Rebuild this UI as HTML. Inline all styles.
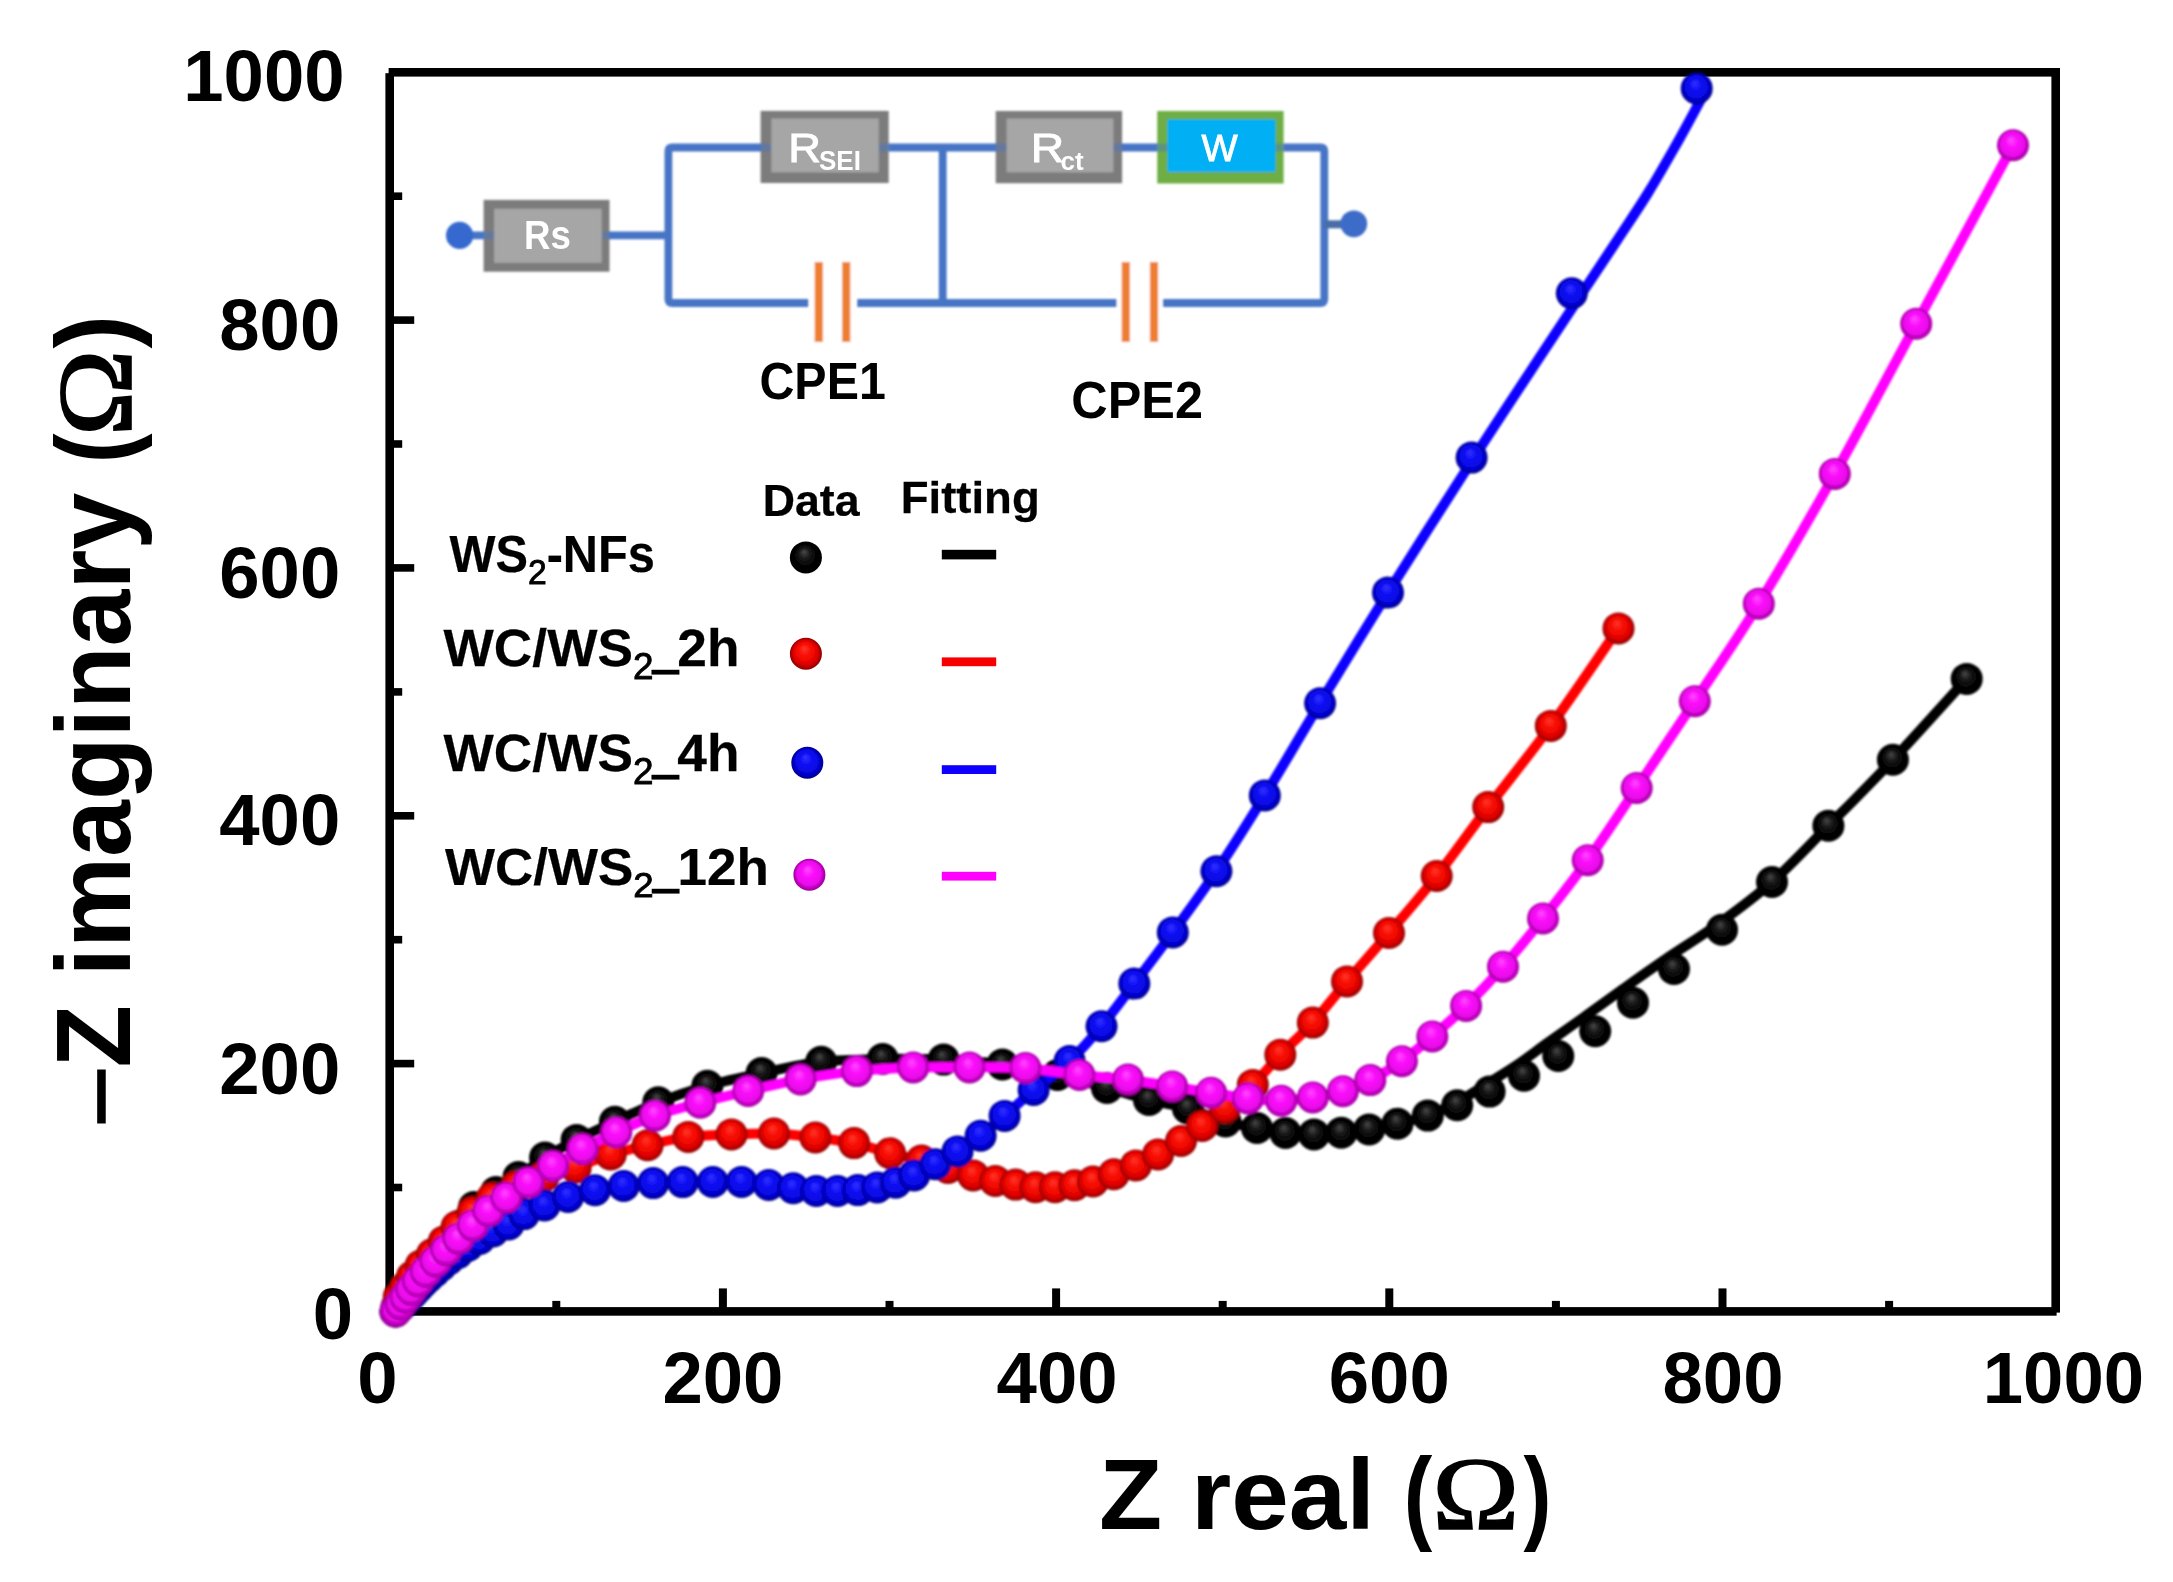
<!DOCTYPE html>
<html lang="en"><head><meta charset="utf-8"><title>Nyquist plot</title>
<style>html,body{margin:0;padding:0;background:#fff;overflow:hidden}svg{display:block}text{font-family:"Liberation Sans",sans-serif;font-weight:bold;fill:#000}.ser{font-family:"Liberation Serif",serif;font-weight:normal}.reg{font-weight:normal}</style></head><body>
<svg width="2173" height="1582" viewBox="0 0 2173 1582">
<defs>
<radialGradient id="gk" cx="0.5" cy="0.5" r="0.5" fx="0.44" fy="0.32"><stop offset="0" stop-color="#4a4a4a"/><stop offset="0.35" stop-color="#161616"/><stop offset="0.7" stop-color="#020202"/><stop offset="1" stop-color="#000000"/></radialGradient>
<radialGradient id="gr" cx="0.5" cy="0.5" r="0.5" fx="0.44" fy="0.32"><stop offset="0" stop-color="#ff3a26"/><stop offset="0.4" stop-color="#f80a06"/><stop offset="0.75" stop-color="#e00404"/><stop offset="1" stop-color="#8e0000"/></radialGradient>
<radialGradient id="gb" cx="0.5" cy="0.5" r="0.5" fx="0.44" fy="0.32"><stop offset="0" stop-color="#3434ff"/><stop offset="0.4" stop-color="#0c0cf4"/><stop offset="0.75" stop-color="#0606dc"/><stop offset="1" stop-color="#00008c"/></radialGradient>
<radialGradient id="gm" cx="0.5" cy="0.5" r="0.5" fx="0.44" fy="0.32"><stop offset="0" stop-color="#ff4cff"/><stop offset="0.4" stop-color="#fb0cfb"/><stop offset="0.75" stop-color="#e808e8"/><stop offset="1" stop-color="#9a009a"/></radialGradient>
<filter id="soft" x="-5%" y="-5%" width="110%" height="110%"><feGaussianBlur stdDeviation="0.7"/></filter>
<filter id="soft2" x="-5%" y="-5%" width="110%" height="110%"><feGaussianBlur stdDeviation="1.1"/></filter>
<filter id="soft3" x="-5%" y="-5%" width="110%" height="110%"><feGaussianBlur stdDeviation="1.0"/></filter>
</defs>
<rect width="2173" height="1582" fill="#fff"/>
<g id="axes" stroke="#000" fill="none" filter="url(#soft)">
<rect x="389.7" y="72.3" width="1666.0" height="1239.1" stroke-width="8.6"/>
<rect x="383" y="65" width="5.6" height="8.2" fill="#fff" stroke="none"/>
<rect x="2056.6" y="1312.6" width="6" height="5" fill="#fff" stroke="none"/>
<line x1="556.3" y1="1311.4" x2="556.3" y2="1300.9" stroke-width="8"/>
<line x1="722.9" y1="1311.4" x2="722.9" y2="1288.4" stroke-width="8"/>
<line x1="889.5" y1="1311.4" x2="889.5" y2="1300.9" stroke-width="8"/>
<line x1="1056.1" y1="1311.4" x2="1056.1" y2="1288.4" stroke-width="8"/>
<line x1="1222.7" y1="1311.4" x2="1222.7" y2="1300.9" stroke-width="8"/>
<line x1="1389.3" y1="1311.4" x2="1389.3" y2="1288.4" stroke-width="8"/>
<line x1="1555.9" y1="1311.4" x2="1555.9" y2="1300.9" stroke-width="8"/>
<line x1="1722.5" y1="1311.4" x2="1722.5" y2="1288.4" stroke-width="8"/>
<line x1="1889.1" y1="1311.4" x2="1889.1" y2="1300.9" stroke-width="8"/>
<line x1="389.7" y1="1187.5" x2="402.2" y2="1187.5" stroke-width="7.6"/>
<line x1="389.7" y1="1063.6" x2="414.2" y2="1063.6" stroke-width="7.6"/>
<line x1="389.7" y1="939.7" x2="402.2" y2="939.7" stroke-width="7.6"/>
<line x1="389.7" y1="815.8" x2="414.2" y2="815.8" stroke-width="7.6"/>
<line x1="389.7" y1="691.9" x2="402.2" y2="691.9" stroke-width="7.6"/>
<line x1="389.7" y1="567.9" x2="414.2" y2="567.9" stroke-width="7.6"/>
<line x1="389.7" y1="444.0" x2="402.2" y2="444.0" stroke-width="7.6"/>
<line x1="389.7" y1="320.1" x2="414.2" y2="320.1" stroke-width="7.6"/>
<line x1="389.7" y1="196.2" x2="402.2" y2="196.2" stroke-width="7.6"/>
</g>
<g id="ticklabels" filter="url(#soft)">
<text x="312.8" y="1338.8" font-size="72.5">0</text>
<text x="219.3" y="1093.6" font-size="72.5">200</text>
<text x="219.3" y="845.2" font-size="72.5">400</text>
<text x="219.3" y="598.0" font-size="72.5">600</text>
<text x="219.3" y="350.2" font-size="72.5">800</text>
<text x="183.3" y="100.6" font-size="72.5">1000</text>
<text x="357.3" y="1403.3" font-size="72.5">0</text>
<text x="662.4" y="1403.3" font-size="72.5">200</text>
<text x="996.6" y="1403.3" font-size="72.5">400</text>
<text x="1328.8" y="1403.3" font-size="72.5">600</text>
<text x="1662.5" y="1403.3" font-size="72.5">800</text>
<text x="1982.8" y="1403.3" font-size="72.5">1000</text>
</g>
<g id="titles" filter="url(#soft)">
<text transform="translate(1099.11 1529.30) scale(1.0291 1.0000)" font-size="100.5">Z real</text>
<text transform="translate(1403.74 1529.80) scale(0.8310 1.0000)" font-size="103">(</text>
<text transform="translate(1432.13 1529.30) scale(1.1147 0.9817)" class="ser" font-size="105" stroke="#000" stroke-width="1.6">Ω</text>
<text transform="translate(1523.50 1529.80) scale(0.8138 1.0000)" font-size="103">)</text>
<text transform="translate(136.40 1127.02) rotate(-90) scale(1.0404 1.0000)" class="ser" font-size="104" stroke="#000" stroke-width="3.4">−</text>
<text transform="translate(129.90 1067.49) rotate(-90) scale(0.9310 0.9532)" font-size="110">Z imaginary</text>
<text transform="translate(129.90 463.32) rotate(-90) scale(0.8433 1.0000)" font-size="106">(</text>
<text transform="translate(130.80 436.17) rotate(-90) scale(1.1147 1.0042)" class="ser" font-size="105" stroke="#000" stroke-width="1.6">Ω</text>
<text transform="translate(129.90 348.50) rotate(-90) scale(0.9500 1.0000)" font-size="106">)</text>
</g>
<g id="circuit" filter="url(#soft2)">
<rect x="483.6" y="199.9" width="125.9" height="71.8" fill="#7c7c7c"/>
<rect x="760.6" y="110.9" width="128.1" height="72.1" fill="#7c7c7c"/>
<rect x="995.7" y="111.0" width="126.4" height="72.2" fill="#7c7c7c"/>
<rect x="1157.2" y="111.0" width="126.4" height="72.5" fill="#6eae44"/>
<g stroke="#4674c6" stroke-width="7.8" fill="none" stroke-linejoin="round">
<path d="M460 235.3H484M609 235.3H668"/>
<path d="M761 147.5H672.4Q668.4 147.5 668.4 151.5V299Q668.4 303 672.4 303H808.3"/>
<path d="M857.2 303H1116.6"/>
<path d="M888.5 147.5H996"/>
<path d="M942.7 147.5V303"/>
<path d="M1122 147.5H1157.5"/>
<path d="M1283.4 147.5H1320.3Q1324.3 147.5 1324.3 151.5V299Q1324.3 303 1320.3 303H1162.7"/>
</g>
<g stroke="#4674c6" stroke-width="7.8" fill="none" opacity="0.45">
<path d="M484 235.3H496M600 235.3H609M761 147.5H773M877 147.5H888.5M996 147.5H1008M1112 147.5H1122M1157.5 147.5H1169M1274 147.5H1283.4"/>
</g>
<path d="M1324.3 224.3H1350" stroke="#4a6da6" stroke-width="8" fill="none"/>
<circle cx="459.6" cy="235.4" r="13.6" fill="#3569cf"/>
<circle cx="1353.8" cy="223.8" r="13.4" fill="#3c6cc8"/>
<rect x="494.1" y="208.7" width="107.7" height="54.2" fill="#a6a6a6"/>
<rect x="771.3" y="118.5" width="107.5" height="53.9" fill="#a6a6a6"/>
<rect x="1006.6" y="118.5" width="106.8" height="53.9" fill="#a6a6a6"/>
<rect x="1167.3" y="119.3" width="108.3" height="52.8" fill="#02aff4"/>
<rect x="810.3" y="257" width="17" height="90" fill="#fff"/>
<rect x="837.7" y="257" width="17" height="90" fill="#fff"/>
<rect x="1117.3" y="257" width="17" height="90" fill="#fff"/>
<rect x="1145.5" y="257" width="17" height="90" fill="#fff"/>
<rect x="814.7" y="262" width="8.2" height="80" fill="#ee7f31"/>
<rect x="842.1" y="262" width="8.2" height="80" fill="#ee7f31"/>
<rect x="1121.7" y="262" width="8.2" height="80" fill="#ee7f31"/>
<rect x="1149.9" y="262" width="8.2" height="80" fill="#ee7f31"/>
</g>
<g id="circuit-labels" filter="url(#soft)">
<text transform="translate(523.95 249.00) scale(0.9170 1.0000)" font-size="40" style="fill:#fff">Rs</text>
<text transform="translate(788.27 161.80) scale(1.1333 1.0000)" class="reg" font-size="40" stroke="#fff" stroke-width="0.9" style="fill:#fff">R</text>
<text transform="translate(818.93 170.20) scale(0.9675 1.0000)" font-size="26.9" style="fill:#fff">SEI</text>
<text transform="translate(1030.77 161.80) scale(1.1571 1.0000)" class="reg" font-size="40" stroke="#fff" stroke-width="0.9" style="fill:#fff">R</text>
<text transform="translate(1060.48 170.20) scale(1.0238 1.0000)" font-size="25.5" style="fill:#fff">ct</text>
<text transform="translate(1201.49 161.40) scale(1.0147 1.0000)" class="reg" font-size="37.8" stroke="#fff" stroke-width="0.9" style="fill:#fff">W</text>
<text transform="translate(759.42 399.40) scale(0.9397 1.0000)" font-size="51.5">CPE1</text>
<text transform="translate(1071.36 418.10) scale(0.9689 1.0000)" font-size="52">CPE2</text>
</g>
<g id="legend" filter="url(#soft)" stroke="#000" stroke-width="0.25">
<text transform="translate(762.64 515.90) scale(1.0207 1.0000)" font-size="43.8">Data</text>
<text transform="translate(900.68 512.60) scale(1.0398 1.0000)" font-size="43.8">Fitting</text>
<text transform="translate(449.50 571.60) scale(0.9364 1.0000)" font-size="52">WS<tspan class="reg" font-size="36" dy="12.5" stroke-width="0.9">2</tspan><tspan dy="-12.5">-NFs</tspan></text>
<text transform="translate(443.60 666.40) scale(1.0245 1.0000)" font-size="52">WC/WS<tspan class="reg" font-size="36" dy="12.5" stroke-width="0.9">2</tspan><tspan dy="-10.5" font-size="42" stroke-width="3.2">_</tspan><tspan dy="-2">2h</tspan></text>
<text transform="translate(443.60 771.00) scale(1.0245 1.0000)" font-size="52">WC/WS<tspan class="reg" font-size="36" dy="12.5" stroke-width="0.9">2</tspan><tspan dy="-10.5" font-size="42" stroke-width="3.2">_</tspan><tspan dy="-2">4h</tspan></text>
<text transform="translate(445.00 884.60) scale(1.0190 1.0000)" font-size="52">WC/WS<tspan class="reg" font-size="36" dy="12.5" stroke-width="0.9">2</tspan><tspan dy="-10.5" font-size="42" stroke-width="3.2">_</tspan><tspan dy="-2">12h</tspan></text>
</g>
<g id="legend-marks" filter="url(#soft)">
<circle cx="805.9" cy="557.4" r="16" fill="url(#gk)"/>
<circle cx="805.9" cy="653.8" r="16" fill="url(#gr)"/>
<circle cx="807.3" cy="762.7" r="16" fill="url(#gb)"/>
<circle cx="809.4" cy="874.7" r="16" fill="url(#gm)"/>
<rect x="941.8" y="549.8" width="54.4" height="9.6" fill="#000"/>
<rect x="941.8" y="657.4" width="54.4" height="8.8" fill="#f80000"/>
<rect x="941.8" y="765.2" width="54.4" height="8.8" fill="#0a00ff"/>
<rect x="941.8" y="871.8" width="54.4" height="8.8" fill="#ff00ff"/>
</g>
<g id="data" filter="url(#soft3)">
<g id="s-k">
<path d="M395.5 1311.5C395.9 1310.3 397.1 1307.0 398.0 1304.4C399.0 1301.8 399.5 1298.7 401.1 1295.9C402.7 1293.1 405.3 1290.7 407.6 1287.8C410.0 1284.9 412.4 1281.8 415.1 1278.5C417.8 1275.2 420.7 1271.6 423.8 1267.8C427.0 1264.0 430.4 1260.1 434.0 1255.7C437.7 1251.4 441.6 1246.9 445.7 1241.9C449.9 1236.9 454.2 1231.5 458.9 1225.7C463.6 1219.9 467.8 1212.6 474.0 1207.0C480.2 1201.4 488.6 1197.0 496.0 1192.0C503.4 1187.0 510.3 1182.8 518.5 1177.0C526.7 1171.2 535.3 1163.7 545.0 1157.5C554.7 1151.3 565.0 1145.9 576.6 1139.9C588.2 1133.9 601.3 1128.0 614.9 1121.7C628.5 1115.4 642.9 1108.3 658.3 1102.3C673.7 1096.3 690.2 1090.7 707.4 1085.8C724.6 1080.9 742.6 1077.1 761.6 1073.1C780.6 1069.1 801.0 1064.1 821.2 1061.8C841.4 1059.5 862.3 1059.4 882.7 1059.0C903.1 1058.6 923.7 1058.7 943.6 1059.6C963.5 1060.5 983.4 1061.9 1002.4 1064.5C1021.4 1067.1 1040.1 1071.1 1057.5 1075.0C1074.9 1078.9 1091.8 1083.8 1107.0 1088.0C1122.2 1092.2 1135.5 1096.6 1149.0 1100.0C1162.5 1103.4 1175.2 1104.9 1188.0 1108.5C1200.8 1112.1 1214.0 1118.2 1225.5 1121.5C1237.0 1124.8 1247.0 1126.1 1257.0 1128.0C1267.0 1129.9 1276.0 1131.9 1285.5 1133.0C1295.0 1134.1 1304.7 1134.5 1314.0 1134.5C1323.3 1134.5 1332.1 1133.6 1341.3 1132.8C1350.5 1132.0 1359.7 1131.0 1369.1 1129.5C1378.5 1128.0 1387.7 1126.1 1397.5 1123.8C1407.3 1121.5 1418.1 1119.1 1427.8 1115.6C1437.5 1112.1 1446.1 1108.1 1455.6 1103.0C1465.1 1097.9 1474.7 1091.5 1484.8 1085.2C1494.9 1078.9 1505.7 1072.5 1516.2 1065.4C1526.8 1058.3 1536.7 1050.5 1548.1 1042.4C1559.5 1034.3 1572.0 1025.7 1584.4 1016.8C1596.9 1007.9 1609.2 998.8 1622.8 989.1C1636.4 979.4 1650.4 969.4 1666.2 958.6C1682.0 947.8 1700.2 937.0 1717.8 924.2C1735.4 911.4 1753.6 898.4 1772.0 882.0C1790.4 865.6 1808.2 846.2 1828.4 825.8C1848.6 805.4 1869.9 784.3 1892.9 759.8C1916.0 735.3 1954.4 692.4 1966.7 678.9" fill="none" stroke="#000000" stroke-width="10.0" stroke-linejoin="round" stroke-linecap="round"/>
<g fill="url(#gk)">
<circle cx="395.5" cy="1311.5" r="16.0"/>
<circle cx="398.0" cy="1304.4" r="16.0"/>
<circle cx="401.1" cy="1295.9" r="16.0"/>
<circle cx="407.6" cy="1287.8" r="16.0"/>
<circle cx="415.1" cy="1278.5" r="16.0"/>
<circle cx="423.8" cy="1267.8" r="16.0"/>
<circle cx="434.0" cy="1255.7" r="16.0"/>
<circle cx="445.7" cy="1241.9" r="16.0"/>
<circle cx="458.9" cy="1225.7" r="16.0"/>
<circle cx="474.0" cy="1207.0" r="16.0"/>
<circle cx="496.0" cy="1192.0" r="16.0"/>
<circle cx="518.5" cy="1177.0" r="16.0"/>
<circle cx="545.0" cy="1157.5" r="16.0"/>
<circle cx="576.6" cy="1139.9" r="16.0"/>
<circle cx="614.9" cy="1121.7" r="16.0"/>
<circle cx="658.3" cy="1102.3" r="16.0"/>
<circle cx="707.4" cy="1085.8" r="16.0"/>
<circle cx="761.6" cy="1073.1" r="16.0"/>
<circle cx="821.2" cy="1061.8" r="16.0"/>
<circle cx="882.7" cy="1059.0" r="16.0"/>
<circle cx="943.6" cy="1059.6" r="16.0"/>
<circle cx="1002.4" cy="1064.5" r="16.0"/>
<circle cx="1057.5" cy="1075.0" r="16.0"/>
<circle cx="1107.0" cy="1088.0" r="16.0"/>
<circle cx="1149.0" cy="1100.0" r="16.0"/>
<circle cx="1188.0" cy="1108.5" r="16.0"/>
<circle cx="1225.5" cy="1121.5" r="16.0"/>
<circle cx="1257.0" cy="1128.0" r="16.0"/>
<circle cx="1285.5" cy="1133.0" r="16.0"/>
<circle cx="1314.0" cy="1134.5" r="16.0"/>
<circle cx="1341.3" cy="1132.8" r="16.0"/>
<circle cx="1369.1" cy="1129.5" r="16.0"/>
<circle cx="1397.5" cy="1123.8" r="16.0"/>
<circle cx="1427.8" cy="1115.6" r="16.0"/>
<circle cx="1457.2" cy="1105.2" r="16.0"/>
<circle cx="1489.6" cy="1091.6" r="16.0"/>
<circle cx="1524.0" cy="1075.8" r="16.0"/>
<circle cx="1558.3" cy="1056.0" r="16.0"/>
<circle cx="1595.2" cy="1031.2" r="16.0"/>
<circle cx="1633.0" cy="1002.7" r="16.0"/>
<circle cx="1674.0" cy="969.0" r="16.0"/>
<circle cx="1722.0" cy="929.8" r="16.0"/>
<circle cx="1772.0" cy="882.0" r="16.0"/>
<circle cx="1828.4" cy="825.8" r="16.0"/>
<circle cx="1892.9" cy="759.8" r="16.0"/>
<circle cx="1966.7" cy="678.9" r="16.0"/>
</g></g>
<g id="s-r">
<path d="M395.5 1311.5C395.7 1310.7 396.0 1309.4 396.5 1306.9C397.1 1304.5 397.4 1300.1 398.8 1296.8C400.2 1293.6 402.7 1290.5 404.9 1287.2C407.1 1283.8 409.4 1280.2 412.0 1276.5C414.7 1272.9 417.4 1269.1 420.7 1265.4C424.0 1261.7 428.1 1258.3 431.9 1254.3C435.8 1250.3 439.7 1246.0 443.8 1241.4C447.9 1236.8 451.8 1231.5 456.6 1226.7C461.4 1221.8 466.7 1216.9 472.6 1212.1C478.5 1207.3 484.8 1202.3 492.0 1198.0C499.3 1193.7 507.5 1190.2 516.1 1186.5C524.8 1182.9 534.0 1179.4 543.9 1176.2C553.8 1173.0 564.6 1171.0 575.7 1167.4C586.8 1163.8 598.7 1158.1 610.7 1154.4C622.7 1150.7 634.7 1148.1 647.6 1145.2C660.5 1142.3 674.3 1138.7 688.3 1136.9C702.3 1135.1 717.2 1135.0 731.5 1134.4C745.8 1133.8 760.0 1133.0 774.0 1133.5C788.0 1134.0 802.0 1135.9 815.4 1137.5C828.8 1139.1 841.6 1140.5 854.1 1143.1C866.6 1145.7 878.9 1150.3 890.1 1153.2C901.3 1156.1 911.9 1158.1 921.5 1160.6C931.1 1163.1 939.4 1165.5 948.0 1168.0C956.6 1170.5 965.3 1173.2 973.2 1175.4C981.1 1177.6 988.2 1179.4 995.3 1180.9C1002.4 1182.4 1008.9 1183.5 1015.6 1184.6C1022.3 1185.7 1028.9 1186.8 1035.5 1187.3C1042.1 1187.8 1048.5 1187.6 1055.0 1187.3C1061.5 1187.0 1068.2 1186.3 1074.5 1185.3C1080.8 1184.3 1086.5 1183.3 1093.0 1181.5C1099.5 1179.7 1106.6 1177.0 1113.8 1174.3C1121.0 1171.6 1128.5 1168.7 1135.9 1165.4C1143.3 1162.1 1150.5 1158.6 1158.0 1154.5C1165.5 1150.4 1173.6 1145.8 1181.0 1141.0C1188.4 1136.2 1194.9 1131.4 1202.2 1125.9C1209.5 1120.4 1216.6 1114.8 1225.0 1108.0C1233.4 1101.2 1243.6 1093.8 1252.8 1084.9C1262.0 1076.0 1270.3 1065.2 1280.3 1054.8C1290.3 1044.4 1301.7 1034.8 1312.8 1022.6C1323.9 1010.4 1334.3 996.3 1347.0 981.4C1359.7 966.5 1374.0 950.6 1389.0 933.0C1404.0 915.4 1420.2 897.0 1436.7 876.0C1453.2 855.0 1469.2 832.1 1488.2 807.1C1507.2 782.1 1529.1 755.7 1550.8 725.9C1572.5 696.1 1607.2 644.6 1618.5 628.4" fill="none" stroke="#ff0000" stroke-width="10.0" stroke-linejoin="round" stroke-linecap="round"/>
<g fill="url(#gr)">
<circle cx="395.5" cy="1311.5" r="16.0"/>
<circle cx="396.5" cy="1306.9" r="16.0"/>
<circle cx="398.8" cy="1296.8" r="16.0"/>
<circle cx="404.9" cy="1287.2" r="16.0"/>
<circle cx="412.0" cy="1276.5" r="16.0"/>
<circle cx="420.7" cy="1265.4" r="16.0"/>
<circle cx="431.9" cy="1254.3" r="16.0"/>
<circle cx="443.8" cy="1241.4" r="16.0"/>
<circle cx="456.6" cy="1226.7" r="16.0"/>
<circle cx="472.6" cy="1212.1" r="16.0"/>
<circle cx="492.0" cy="1198.0" r="16.0"/>
<circle cx="516.1" cy="1186.5" r="16.0"/>
<circle cx="543.9" cy="1176.2" r="16.0"/>
<circle cx="575.7" cy="1167.4" r="16.0"/>
<circle cx="610.7" cy="1154.4" r="16.0"/>
<circle cx="647.6" cy="1145.2" r="16.0"/>
<circle cx="688.3" cy="1136.9" r="16.0"/>
<circle cx="731.5" cy="1134.4" r="16.0"/>
<circle cx="774.0" cy="1133.5" r="16.0"/>
<circle cx="815.4" cy="1137.5" r="16.0"/>
<circle cx="854.1" cy="1143.1" r="16.0"/>
<circle cx="890.1" cy="1153.2" r="16.0"/>
<circle cx="921.5" cy="1160.6" r="16.0"/>
<circle cx="948.0" cy="1168.0" r="16.0"/>
<circle cx="973.2" cy="1175.4" r="16.0"/>
<circle cx="995.3" cy="1180.9" r="16.0"/>
<circle cx="1015.6" cy="1184.6" r="16.0"/>
<circle cx="1035.5" cy="1187.3" r="16.0"/>
<circle cx="1055.0" cy="1187.3" r="16.0"/>
<circle cx="1074.5" cy="1185.3" r="16.0"/>
<circle cx="1093.0" cy="1181.5" r="16.0"/>
<circle cx="1113.8" cy="1174.3" r="16.0"/>
<circle cx="1135.9" cy="1165.4" r="16.0"/>
<circle cx="1158.0" cy="1154.5" r="16.0"/>
<circle cx="1181.0" cy="1141.0" r="16.0"/>
<circle cx="1202.2" cy="1125.9" r="16.0"/>
<circle cx="1225.0" cy="1108.0" r="16.0"/>
<circle cx="1252.8" cy="1084.9" r="16.0"/>
<circle cx="1280.3" cy="1054.8" r="16.0"/>
<circle cx="1312.8" cy="1022.6" r="16.0"/>
<circle cx="1347.0" cy="981.4" r="16.0"/>
<circle cx="1389.0" cy="933.0" r="16.0"/>
<circle cx="1436.7" cy="876.0" r="16.0"/>
<circle cx="1488.2" cy="807.1" r="16.0"/>
<circle cx="1550.8" cy="725.9" r="16.0"/>
<circle cx="1618.5" cy="628.4" r="16.0"/>
</g></g>
<g id="s-b">
<path d="M395.5 1311.5C395.8 1311.2 396.5 1310.4 397.1 1309.8C397.7 1309.1 398.5 1308.3 399.2 1307.4C400.0 1306.6 400.8 1305.8 401.6 1304.9C402.4 1304.0 403.3 1303.0 404.2 1302.0C405.1 1301.0 406.1 1299.9 407.1 1298.8C408.2 1297.7 409.3 1296.6 410.5 1295.4C411.6 1294.1 412.9 1292.9 414.2 1291.5C415.5 1290.2 416.8 1288.7 418.3 1287.2C419.7 1285.7 421.2 1284.1 422.8 1282.5C424.5 1280.8 426.2 1279.2 428.1 1277.4C430.0 1275.7 432.0 1273.9 434.2 1272.0C436.3 1270.1 438.5 1268.0 440.9 1266.0C443.3 1263.9 445.8 1261.7 448.6 1259.5C451.4 1257.4 454.5 1255.3 457.7 1253.1C460.9 1250.8 464.1 1248.3 467.8 1245.9C471.5 1243.6 475.4 1241.3 479.6 1238.9C483.8 1236.5 488.2 1233.9 493.0 1231.5C497.8 1229.1 503.3 1227.4 508.5 1224.5C513.7 1221.6 518.1 1217.3 524.1 1214.1C530.1 1210.9 537.2 1208.3 544.5 1205.5C551.8 1202.7 559.6 1199.5 568.0 1197.0C576.4 1194.5 585.7 1192.0 595.0 1190.2C604.3 1188.4 614.0 1187.2 623.7 1186.0C633.4 1184.8 643.4 1183.8 653.2 1183.1C663.0 1182.4 672.8 1182.3 682.7 1182.1C692.6 1181.9 703.0 1182.0 712.8 1182.0C722.6 1182.0 732.3 1181.5 741.6 1182.0C750.9 1182.5 760.2 1184.0 768.8 1185.0C777.4 1186.0 785.3 1187.3 793.2 1188.3C801.1 1189.3 808.9 1190.5 816.3 1191.0C823.7 1191.5 830.6 1191.2 837.5 1191.0C844.4 1190.8 851.2 1190.7 857.8 1190.1C864.4 1189.5 870.9 1188.6 877.2 1187.4C883.5 1186.2 889.6 1184.7 895.7 1182.7C901.9 1180.7 907.5 1178.5 914.1 1175.4C920.7 1172.3 928.1 1168.3 935.3 1164.3C942.5 1160.3 950.0 1156.2 957.5 1151.4C965.0 1146.6 972.8 1141.6 980.6 1135.7C988.5 1129.8 995.8 1123.5 1004.6 1115.9C1013.4 1108.3 1022.8 1099.2 1033.6 1090.0C1044.4 1080.8 1058.3 1071.6 1069.6 1061.0C1080.9 1050.4 1090.7 1039.1 1101.5 1026.2C1112.3 1013.3 1122.4 999.2 1134.3 983.6C1146.2 968.0 1159.1 951.1 1172.8 932.4C1186.5 913.7 1201.1 894.1 1216.4 871.3C1231.7 848.5 1247.5 823.4 1264.8 795.4C1282.1 767.4 1299.6 737.0 1320.1 703.2C1340.6 669.4 1362.3 633.5 1388.0 592.6C1413.7 551.7 1450.3 494.4 1474.0 457.6C1497.7 420.8 1512.0 399.4 1530.0 372.0C1548.0 344.6 1567.3 315.5 1582.0 293.3C1596.7 271.1 1607.0 255.7 1618.0 239.0C1629.0 222.3 1638.3 208.7 1648.0 193.0C1657.7 177.3 1667.3 160.3 1676.0 145.0C1684.7 129.7 1695.0 110.2 1700.0 101.0C1705.0 91.8 1705.0 91.8 1706.0 90.0" fill="none" stroke="#0a00ff" stroke-width="10.0" stroke-linejoin="round" stroke-linecap="round"/>
<g fill="url(#gb)">
<circle cx="395.5" cy="1311.5" r="16.0"/>
<circle cx="397.1" cy="1309.8" r="16.0"/>
<circle cx="399.2" cy="1307.4" r="16.0"/>
<circle cx="401.6" cy="1304.9" r="16.0"/>
<circle cx="404.2" cy="1302.0" r="16.0"/>
<circle cx="407.1" cy="1298.8" r="16.0"/>
<circle cx="410.5" cy="1295.4" r="16.0"/>
<circle cx="414.2" cy="1291.5" r="16.0"/>
<circle cx="418.3" cy="1287.2" r="16.0"/>
<circle cx="422.8" cy="1282.5" r="16.0"/>
<circle cx="428.1" cy="1277.4" r="16.0"/>
<circle cx="434.2" cy="1272.0" r="16.0"/>
<circle cx="440.9" cy="1266.0" r="16.0"/>
<circle cx="448.6" cy="1259.5" r="16.0"/>
<circle cx="457.7" cy="1253.1" r="16.0"/>
<circle cx="467.8" cy="1245.9" r="16.0"/>
<circle cx="479.6" cy="1238.9" r="16.0"/>
<circle cx="493.0" cy="1231.5" r="16.0"/>
<circle cx="508.5" cy="1224.5" r="16.0"/>
<circle cx="524.1" cy="1214.1" r="16.0"/>
<circle cx="544.5" cy="1205.5" r="16.0"/>
<circle cx="568.0" cy="1197.0" r="16.0"/>
<circle cx="595.0" cy="1190.2" r="16.0"/>
<circle cx="623.7" cy="1186.0" r="16.0"/>
<circle cx="653.2" cy="1183.1" r="16.0"/>
<circle cx="682.7" cy="1182.1" r="16.0"/>
<circle cx="712.8" cy="1182.0" r="16.0"/>
<circle cx="741.6" cy="1182.0" r="16.0"/>
<circle cx="768.8" cy="1185.0" r="16.0"/>
<circle cx="793.2" cy="1188.3" r="16.0"/>
<circle cx="816.3" cy="1191.0" r="16.0"/>
<circle cx="837.5" cy="1191.0" r="16.0"/>
<circle cx="857.8" cy="1190.1" r="16.0"/>
<circle cx="877.2" cy="1187.4" r="16.0"/>
<circle cx="895.7" cy="1182.7" r="16.0"/>
<circle cx="914.1" cy="1175.4" r="16.0"/>
<circle cx="935.3" cy="1164.3" r="16.0"/>
<circle cx="957.5" cy="1151.4" r="16.0"/>
<circle cx="980.6" cy="1135.7" r="16.0"/>
<circle cx="1004.6" cy="1115.9" r="16.0"/>
<circle cx="1033.6" cy="1090.0" r="16.0"/>
<circle cx="1069.6" cy="1061.0" r="16.0"/>
<circle cx="1101.5" cy="1026.2" r="16.0"/>
<circle cx="1134.3" cy="983.6" r="16.0"/>
<circle cx="1172.8" cy="932.4" r="16.0"/>
<circle cx="1216.4" cy="871.3" r="16.0"/>
<circle cx="1264.8" cy="795.4" r="16.0"/>
<circle cx="1320.1" cy="703.2" r="16.0"/>
<circle cx="1388.0" cy="592.6" r="16.0"/>
<circle cx="1471.6" cy="457.6" r="16.0"/>
<circle cx="1571.8" cy="293.3" r="16.0"/>
<circle cx="1696.7" cy="88.4" r="16.0"/>
</g></g>
<g id="s-m">
<path d="M395.5 1311.5C395.7 1311.3 395.6 1311.4 396.5 1310.2C397.3 1309.0 399.2 1306.3 400.8 1304.2C402.3 1302.0 403.9 1299.8 405.7 1297.4C407.4 1294.9 409.2 1292.3 411.3 1289.6C413.3 1286.9 415.6 1284.1 418.0 1281.2C420.5 1278.2 423.0 1275.0 425.9 1271.7C428.8 1268.4 432.1 1265.1 435.5 1261.5C438.9 1257.9 442.5 1253.9 446.3 1250.1C450.1 1246.3 454.0 1242.8 458.4 1238.7C462.8 1234.6 467.8 1230.1 472.8 1225.5C477.8 1220.9 482.8 1215.6 488.4 1211.0C494.0 1206.4 499.7 1202.5 506.4 1197.8C513.1 1193.0 520.7 1187.8 528.5 1182.5C536.3 1177.2 544.0 1171.6 553.0 1166.0C562.0 1160.4 572.0 1154.6 582.5 1149.0C593.0 1143.4 604.2 1137.8 616.3 1132.3C628.4 1126.8 641.0 1120.6 655.0 1115.7C669.0 1110.8 684.8 1106.9 700.3 1102.8C715.8 1098.7 731.5 1094.9 748.2 1091.0C764.9 1087.1 782.5 1082.7 800.6 1079.4C818.7 1076.1 838.1 1073.1 856.9 1071.1C875.7 1069.1 894.4 1068.0 913.2 1067.4C932.0 1066.8 950.8 1067.3 969.5 1067.4C988.2 1067.5 1007.2 1066.7 1025.5 1068.0C1043.8 1069.3 1062.4 1073.1 1079.5 1075.0C1096.6 1076.9 1112.5 1077.6 1128.0 1079.5C1143.5 1081.4 1158.4 1084.2 1172.2 1086.4C1186.0 1088.6 1198.5 1090.7 1211.1 1092.7C1223.7 1094.7 1236.3 1097.1 1248.0 1098.4C1259.7 1099.7 1270.4 1100.9 1281.2 1100.7C1292.0 1100.5 1302.5 1099.1 1312.8 1097.5C1323.1 1095.9 1333.3 1094.1 1342.9 1091.2C1352.5 1088.3 1360.5 1085.1 1370.3 1080.1C1380.1 1075.1 1391.6 1068.5 1401.9 1061.2C1412.2 1053.9 1421.6 1045.7 1432.3 1036.5C1443.0 1027.3 1454.3 1017.5 1466.1 1005.9C1477.9 994.3 1490.2 981.3 1503.0 966.7C1515.8 952.1 1528.9 936.2 1543.0 918.5C1557.1 900.8 1572.1 882.0 1587.7 860.2C1603.3 838.5 1618.9 814.5 1636.7 788.0C1654.5 761.5 1674.5 731.9 1694.8 701.2C1715.1 670.5 1735.5 641.7 1758.8 603.8C1782.1 565.9 1808.6 520.6 1834.8 473.9C1861.0 427.2 1886.5 378.6 1916.2 323.8C1945.9 269.0 1996.9 175.1 2013.0 145.3" fill="none" stroke="#ff00ff" stroke-width="10.0" stroke-linejoin="round" stroke-linecap="round"/>
<g fill="url(#gm)">
<circle cx="395.5" cy="1311.5" r="16.0"/>
<circle cx="396.5" cy="1310.2" r="16.0"/>
<circle cx="400.8" cy="1304.2" r="16.0"/>
<circle cx="405.7" cy="1297.4" r="16.0"/>
<circle cx="411.3" cy="1289.6" r="16.0"/>
<circle cx="418.0" cy="1281.2" r="16.0"/>
<circle cx="425.9" cy="1271.7" r="16.0"/>
<circle cx="435.5" cy="1261.5" r="16.0"/>
<circle cx="446.3" cy="1250.1" r="16.0"/>
<circle cx="458.4" cy="1238.7" r="16.0"/>
<circle cx="472.8" cy="1225.5" r="16.0"/>
<circle cx="488.4" cy="1211.0" r="16.0"/>
<circle cx="506.4" cy="1197.8" r="16.0"/>
<circle cx="528.5" cy="1182.5" r="16.0"/>
<circle cx="553.0" cy="1166.0" r="16.0"/>
<circle cx="582.5" cy="1149.0" r="16.0"/>
<circle cx="616.3" cy="1132.3" r="16.0"/>
<circle cx="655.0" cy="1115.7" r="16.0"/>
<circle cx="700.3" cy="1102.8" r="16.0"/>
<circle cx="748.2" cy="1091.0" r="16.0"/>
<circle cx="800.6" cy="1079.4" r="16.0"/>
<circle cx="856.9" cy="1071.1" r="16.0"/>
<circle cx="913.2" cy="1067.4" r="16.0"/>
<circle cx="969.5" cy="1067.4" r="16.0"/>
<circle cx="1025.5" cy="1068.0" r="16.0"/>
<circle cx="1079.5" cy="1075.0" r="16.0"/>
<circle cx="1128.0" cy="1079.5" r="16.0"/>
<circle cx="1172.2" cy="1086.4" r="16.0"/>
<circle cx="1211.1" cy="1092.7" r="16.0"/>
<circle cx="1248.0" cy="1098.4" r="16.0"/>
<circle cx="1281.2" cy="1100.7" r="16.0"/>
<circle cx="1312.8" cy="1097.5" r="16.0"/>
<circle cx="1342.9" cy="1091.2" r="16.0"/>
<circle cx="1370.3" cy="1080.1" r="16.0"/>
<circle cx="1401.9" cy="1061.2" r="16.0"/>
<circle cx="1432.3" cy="1036.5" r="16.0"/>
<circle cx="1466.1" cy="1005.9" r="16.0"/>
<circle cx="1503.0" cy="966.7" r="16.0"/>
<circle cx="1543.0" cy="918.5" r="16.0"/>
<circle cx="1587.7" cy="860.2" r="16.0"/>
<circle cx="1636.7" cy="788.0" r="16.0"/>
<circle cx="1694.8" cy="701.2" r="16.0"/>
<circle cx="1758.8" cy="603.8" r="16.0"/>
<circle cx="1834.8" cy="473.9" r="16.0"/>
<circle cx="1916.2" cy="323.8" r="16.0"/>
<circle cx="2013.0" cy="145.3" r="16.0"/>
</g></g>
<g id="s-dense">
</g>
</g>
</svg></body></html>
